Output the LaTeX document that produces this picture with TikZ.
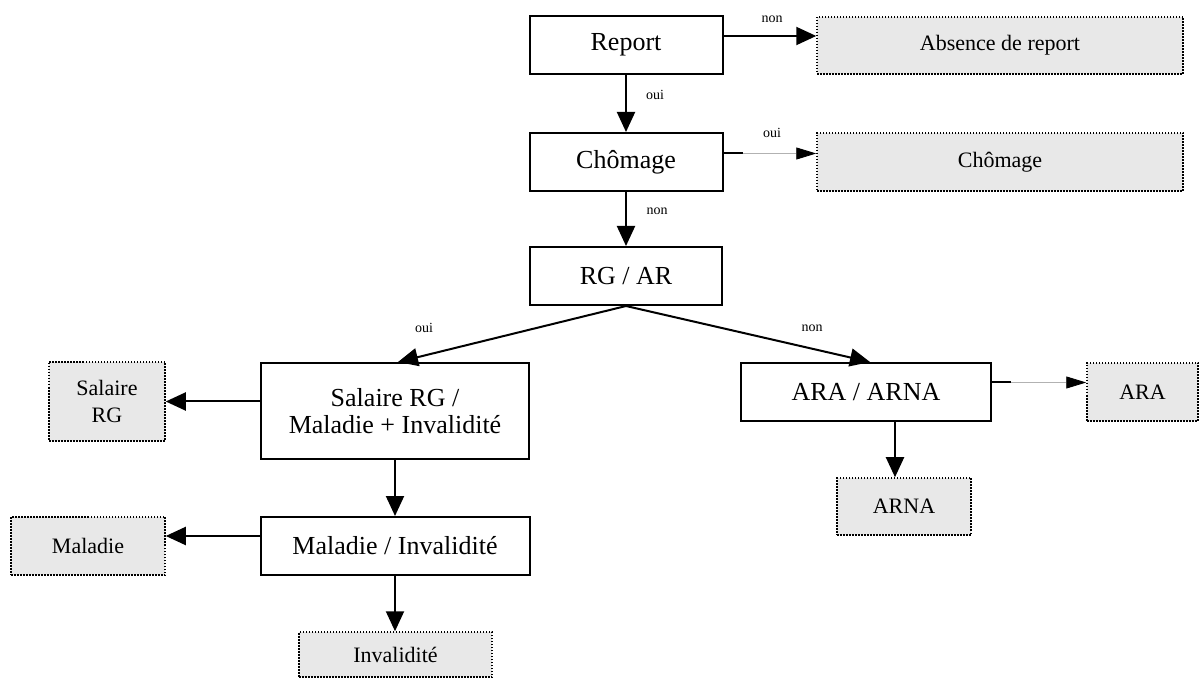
\documentclass[tikz,border=0pt]{standalone}
\usepackage{fontspec}
\setmainfont{Liberation Serif}
\usetikzlibrary{arrows.meta}
\definecolor{boxgray}{HTML}{E8E8E8}
\tikzset{
  mainbox/.style={draw=black, line width=2pt, fill=white, inner sep=0pt,
    font=\fontsize{26}{27}\selectfont, align=center},
  endbox/.style={draw=black, line width=1.5pt, dash pattern=on 1.5pt off 1.5pt,
    fill=boxgray, inner sep=0pt, font=\fontsize{22}{27}\selectfont, align=center},
  arr/.style={line width=2pt, -{Triangle[length=20pt,width=18pt]}},
  thinarr/.style={line width=0.8pt, draw=black!30, -{Triangle[length=20pt,width=12pt,color=black]}},
  stub/.style={line width=2pt},
  lbl/.style={font=\fontsize{14}{16}\selectfont, inner sep=0pt}
}
\begin{document}
\begin{tikzpicture}[x=1pt,y=-1pt]
\useasboundingbox (0,0) rectangle (1200,684);
% main boxes
\node[mainbox, minimum width=193pt, minimum height=58pt] (report) at (626,45) {Report};
\node[mainbox, minimum width=193pt, minimum height=58pt] (chom) at (626,162) {Chômage};
\node[mainbox, minimum width=192pt, minimum height=58pt] (rgar) at (626,276) {RG / AR};
\node[mainbox, minimum width=268pt, minimum height=96pt] (sal) at (395,411) {Salaire RG /\\Maladie + Invalidité};
\node[mainbox, minimum width=269pt, minimum height=58pt] (malinv) at (395,546) {Maladie / Invalidité};
\node[mainbox, minimum width=250pt, minimum height=58pt] (arana) at (866,392) {ARA / ARNA};
% end boxes
\node[endbox, minimum width=366pt, minimum height=57pt] (absence) at (1000,45.5) {Absence de report};
\node[endbox, minimum width=366pt, minimum height=58pt] (chomR) at (1000,162) {Chômage};
\node[endbox, minimum width=116pt, minimum height=79pt] (salrg) at (107,401.5) {Salaire\\RG};
\node[endbox, minimum width=154pt, minimum height=58pt] (maladie) at (88,546) {Maladie};
\node[endbox, minimum width=193pt, minimum height=45pt] (invalid) at (395.5,654.5) {Invalidité};
\node[endbox, minimum width=111pt, minimum height=58pt] (ara) at (1142.5,392) {ARA};
\node[endbox, minimum width=134pt, minimum height=57pt] (arna) at (904,506.5) {ARNA};
% connectors
\draw[arr] ([yshift=9pt]report.east) -- ([yshift=9.5pt]absence.west);
\draw[arr] (report.south) -- (report.south |- chom.north);
\draw[stub] ([yshift=8.5pt]chom.east) -- ++(19,0) coordinate (c1);
\draw[thinarr] (c1) -- ([yshift=8.5pt]chomR.west);
\draw[arr] (chom.south) -- (chom.south |- rgar.north);
\draw[arr] (rgar.south) -- ([xshift=3pt]sal.north);
\draw[arr] (rgar.south) -- ([xshift=4pt]arana.north);
\draw[arr] ([yshift=9.5pt]sal.west) -- (salrg.east);
\draw[arr] (sal.south) -- (sal.south |- malinv.north);
\draw[arr] ([yshift=10pt]malinv.west) -- ([yshift=10pt]maladie.east);
\draw[arr] (malinv.south) -- (malinv.south |- invalid.north);
\draw[stub] ([yshift=9.5pt]arana.east) -- ++(19,0) coordinate (c2);
\draw[thinarr] (c2) -- ([yshift=9.5pt]ara.west);
\draw[arr] ([xshift=29pt]arana.south) -- ([xshift=29pt]arana.south |- arna.north);
% labels
\node[lbl] (l1) at (772,19) {non};
\node[lbl] (l2) at (655,95) {oui};
\node[lbl] (l3) at (772,133) {oui};
\node[lbl] (l4) at (657,211) {non};
\node[lbl] (l5) at (424,328) {oui};
\node[lbl] (l6) at (812,328) {non};
\end{tikzpicture}
\end{document}
